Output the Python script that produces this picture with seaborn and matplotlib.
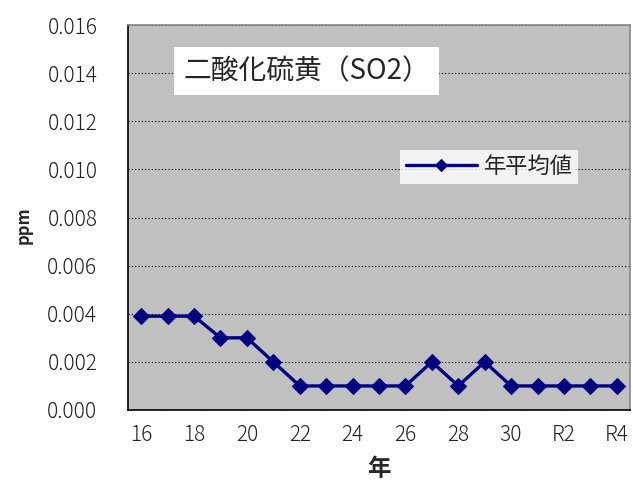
import numpy as np
import matplotlib.pyplot as plt
import seaborn as sns
import pandas as pd
from matplotlib.ticker import FixedLocator

# データ
years = ['16', '17', '18', '19', '20', '21', '22', '23', '24', '25',
         '26', '27', '28', '29', '30', 'R1', 'R2', 'R3', 'R4']
so2 = [0.0039, 0.0039, 0.0039, 0.003, 0.003, 0.002, 0.001, 0.001, 0.001, 0.001,
       0.001, 0.002, 0.001, 0.002, 0.001, 0.001, 0.001, 0.001, 0.001]
yticks = [0.000, 0.002, 0.004, 0.006, 0.008, 0.010, 0.012, 0.014, 0.016]

df = pd.DataFrame({'年': years, 'ppm': so2})
df['pos'] = np.arange(len(years))

sns.set_style('white')
plt.rcParams['font.family'] = ['Noto Sans CJK JP', 'DejaVu Sans']

fig = plt.figure(figsize=(6.33, 4.88), dpi=100)
ax = fig.add_axes([128 / 633, 78 / 488, 502 / 633, 385 / 488])
ax.set_facecolor('#c0c0c0')

sns.lineplot(data=df, x='pos', y='ppm', ax=ax, color='#000080', lw=2.4,
             marker='D', markersize=8, markeredgecolor='#000080', label='年平均値')

ax.set_xlim(-0.5, len(years) - 0.5)
ax.set_ylim(0, 0.016)
ax.set_yticks(yticks)
ax.set_yticklabels([f'{v:.3f}' for v in yticks], fontsize=15, color='#222222',
                   fontweight='light')
ax.set_xticks(df['pos'][::2])
ax.set_xticklabels(years[::2], fontsize=15, color='#222222', fontweight='light')
ax.xaxis.set_minor_locator(FixedLocator(np.arange(0.5, len(years) - 1, 1)))
ax.tick_params(axis='x', which='major', length=0, pad=10)
ax.tick_params(axis='x', which='minor', direction='in', length=5, width=1, color='black')
ax.tick_params(axis='y', direction='in', length=6, width=1, color='black', pad=22)
ax.grid(axis='y', color='black', linestyle=(0, (1, 2)), lw=0.8)
for s in ax.spines.values():
    s.set_color('black')
    s.set_linewidth(1.2)
ax.spines['right'].set_color('#888888')
ax.spines['top'].set_color('#888888')

ax.set_xlabel('年', fontsize=17, fontweight='bold', labelpad=8)
ax.set_ylabel('ppm', fontsize=12, fontweight='bold', labelpad=0)
ax.yaxis.set_label_coords(-0.19, 0.48)

ax.text(0.11, 0.88, '二酸化硫黄（SO2）', transform=ax.transAxes, fontsize=20,
        va='center', ha='left',
        bbox=dict(boxstyle='square,pad=0.32', fc='white', ec='none'))

leg = ax.legend(loc='upper left', bbox_to_anchor=(0.52, 0.705), fontsize=16,
                frameon=True, fancybox=False, handlelength=3.2, borderpad=0.25,
                handletextpad=0.3)
leg.get_frame().set_facecolor('white')
leg.get_frame().set_edgecolor('none')
for h in leg.legend_handles:
    h.set_markersize(6)

plt.savefig('out.png', dpi=100)
